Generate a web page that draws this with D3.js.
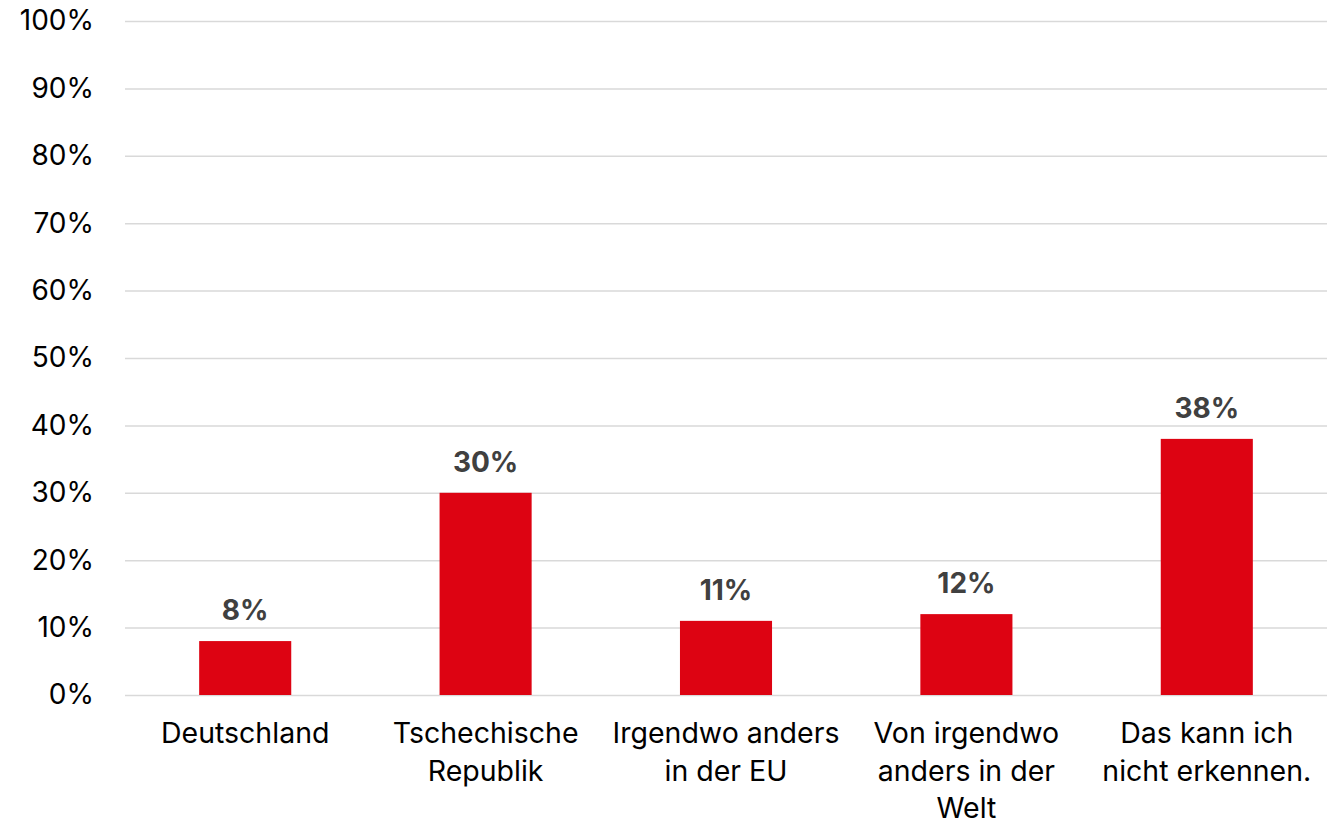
<!DOCTYPE html>
<html>
<head>
<meta charset="utf-8">
<script src="https://cdn.jsdelivr.net/npm/d3@7"></script>
<style>
  html, body { margin: 0; padding: 0; background: #fff; }
  svg { display: block; }
</style>
</head>
<body>
<svg id="chart" width="1335" height="826"></svg>
<script>
// Categories (each entry is a list of label lines)
const categories = [
  ["Deutschland"],
  ["Tschechische", "Republik"],
  ["Irgendwo anders", "in der EU"],
  ["Von irgendwo", "anders in der", "Welt"],
  ["Das kann ich", "nicht erkennen."]
];
const values = [8, 30, 11, 12, 38];
const yTicks = [0, 10, 20, 30, 40, 50, 60, 70, 80, 90, 100];

const W = 1335, H = 826;
const margin = { top: 21, right: 8, bottom: 131, left: 125 };
const font = "Inter, 'Liberation Sans', Arial, sans-serif";

const svg = d3.select("#chart");
const g = svg.append("g").attr("transform", `translate(${margin.left},${margin.top})`);
const iw = W - margin.left - margin.right;
const ih = H - margin.top - margin.bottom;

const x = d3.scaleBand()
  .domain(categories.map((d, i) => i))
  .range([0, iw])
  .paddingInner(0.617)
  .paddingOuter(0.3085);

const y = d3.scaleLinear().domain([0, 100]).range([ih, 0]);

// Gridlines + y tick labels
const yAxis = d3.axisLeft(y)
  .tickValues(yTicks)
  .tickSize(-iw)
  .tickPadding(31)
  .tickFormat(d => d + "%");

const ya = g.append("g").call(yAxis);
ya.select(".domain").remove();
ya.selectAll(".tick line").attr("stroke", "#d9d9d9").attr("stroke-width", 1.5);
ya.selectAll(".tick text")
  .attr("font-family", font)
  .attr("font-size", 28)
  .attr("fill", "#000");

// Bars
g.selectAll("rect.bar")
  .data(values)
  .join("rect")
  .attr("class", "bar")
  .attr("x", (d, i) => x(i))
  .attr("width", x.bandwidth())
  .attr("y", d => y(d))
  .attr("height", d => y(0) - y(d))
  .attr("fill", "#dd0312");

// Value labels
g.selectAll("text.val")
  .data(values)
  .join("text")
  .attr("class", "val")
  .attr("x", (d, i) => x(i) + x.bandwidth() / 2)
  .attr("y", d => y(d) - 21)
  .attr("text-anchor", "middle")
  .attr("font-family", font)
  .attr("font-weight", "bold")
  .attr("font-size", 28)
  .attr("fill", "#404040")
  .text(d => d + "%");

// Category labels
const cat = g.selectAll("text.cat")
  .data(categories)
  .join("text")
  .attr("class", "cat")
  .attr("text-anchor", "middle")
  .attr("font-family", font)
  .attr("font-size", 28.5)
  .attr("fill", "#000")
  .attr("transform", (d, i) => `translate(${x(i) + x.bandwidth() / 2},${ih + 48})`);

cat.selectAll("tspan")
  .data(d => d)
  .join("tspan")
  .attr("x", 0)
  .attr("y", (d, j) => j * 37.5)
  .text(d => d);
</script>
</body>
</html>
